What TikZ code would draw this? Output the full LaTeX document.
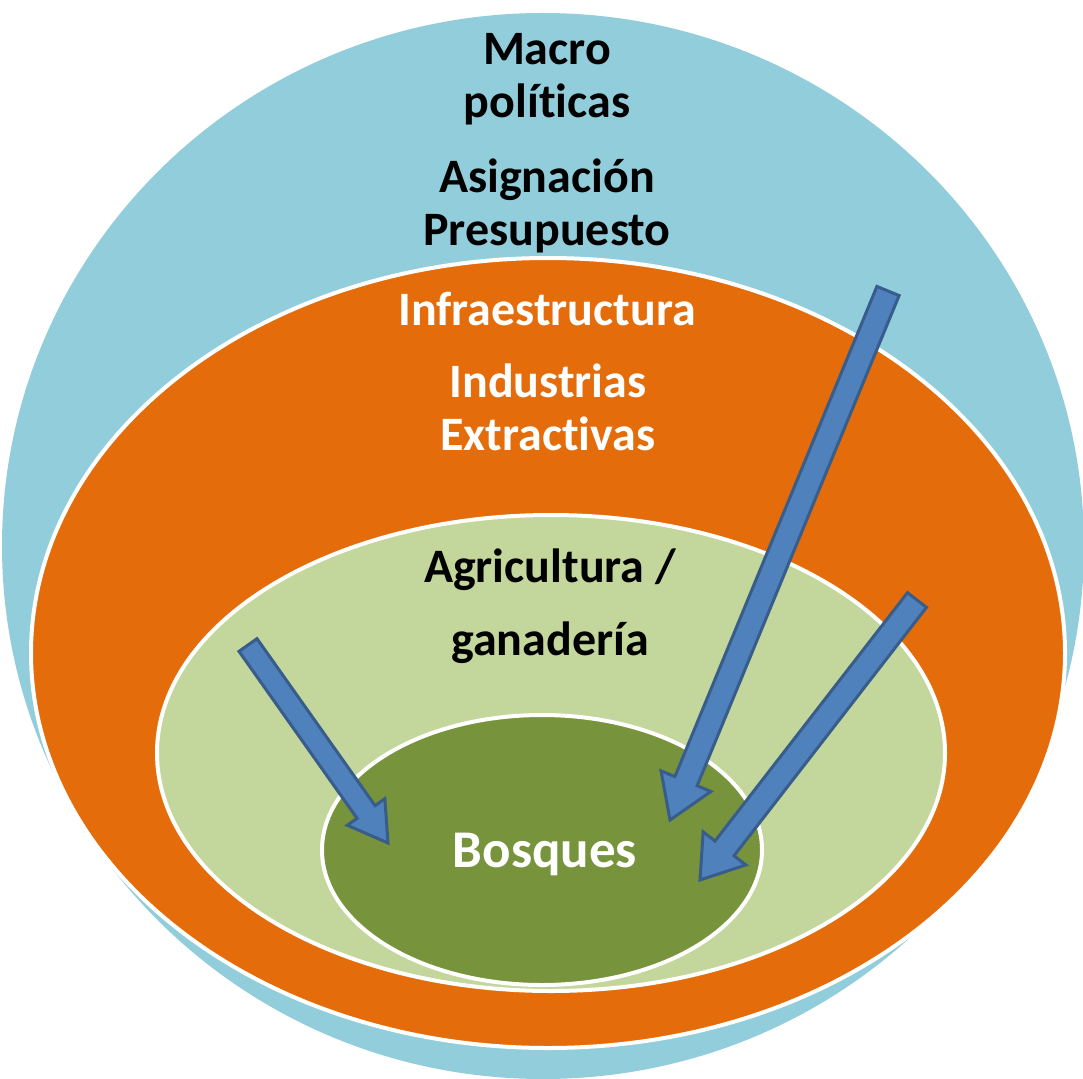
\documentclass[tikz,border=0pt]{standalone}
\usepackage{fontspec}
\setmainfont{Carlito}[Ligatures=NoCommon]
\usetikzlibrary{calc}
\definecolor{skyb}{HTML}{92CDDC}
\definecolor{orng}{HTML}{E46C0A}
\definecolor{lgrn}{HTML}{C3D69B}
\definecolor{dgrn}{HTML}{77933C}
\definecolor{arfill}{HTML}{4F81BD}
\definecolor{arline}{HTML}{385D8A}
\tikzset{
  lbl/.style={font=\fontsize{48}{56}\selectfont\bfseries, anchor=base, inner sep=0pt},
  lblk/.style={lbl, text=black},
  lblw/.style={lbl, text=white},
  ring/.style={draw=white, line width=4pt},
  blockarr/.style={fill=arfill, draw=arline, line width=3pt, line join=miter},
}
\newcommand\myblockarrow[5]{% tail, tip, shaft half, head half, head length
  \coordinate (bs) at ($(#2)!#5!(#1)$);
  \draw[blockarr] ($(#1)!#3!90:(#2)$) -- ($(bs)!#3!90:(#2)$) -- ($(bs)!#4!90:(#2)$)
    -- (#2) -- ($(bs)!#4!-90:(#2)$) -- ($(bs)!#3!-90:(#2)$) -- ($(#1)!#3!-90:(#2)$) -- cycle;
}
\begin{document}
\begin{tikzpicture}[x=1pt,y=-1pt]
\useasboundingbox (0,0) rectangle (1083,1078);
\begin{scope}
\clip (0,0) rectangle (1083,1078);
\fill[skyb] (543,546) ellipse [x radius=541pt, y radius=533pt];
\end{scope}
\filldraw[orng, ring] (548,653) ellipse [x radius=517pt, y radius=395pt];
\filldraw[lgrn, ring] (551,753) ellipse [x radius=394pt, y radius=238pt];
\filldraw[dgrn, ring] (542,850) ellipse [x radius=220pt, y radius=135pt];

\node[lblk] (macro) at (547,65) {Macro};
\node[lblk] (pol) at (547,118) {políticas};
\node[lblk] (asig) at (547,193) {Asignación};
\node[lblk] (pres) at (547,245) {Presupuesto};
\node[lblw] (infra) at (547,325) {Infraestructura};
\node[lblw] (indu) at (548,397) {Industrias};
\node[lblw] (extr) at (548,450) {Extractivas};
\node[lblk] (agri) at (550,582) {Agricultura /};
\node[lblk] (gana) at (550,655) {ganadería};
\node[lblw, font=\fontsize{53}{60}\selectfont\bfseries] (bosq) at (545,867) {Bosques};

\coordinate (a1t) at (248,645);
\coordinate (a1h) at (388,843);
\coordinate (a2t) at (888,291);
\coordinate (a2h) at (670,820);
\coordinate (a3t) at (917,600);
\coordinate (a3h) at (700,880);
\myblockarrow{a1t}{a1h}{11pt}{23pt}{38pt}
\myblockarrow{a2t}{a2h}{12pt}{27pt}{42pt}
\myblockarrow{a3t}{a3h}{12pt}{27pt}{40pt}
\end{tikzpicture}
\end{document}
